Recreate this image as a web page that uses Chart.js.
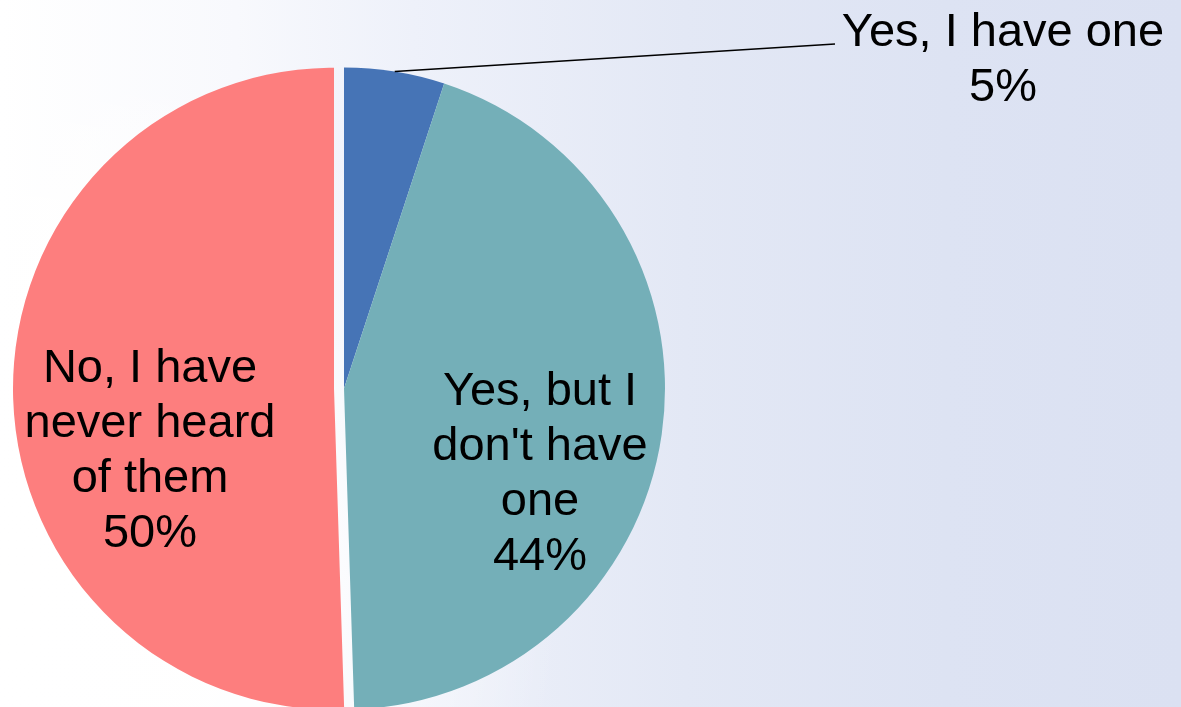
<!DOCTYPE html>
<html>
<head>
<meta charset="utf-8">
<script src="https://cdn.jsdelivr.net/npm/chart.js@4/dist/chart.umd.min.js"></script>
<style>
  html, body { margin: 0; padding: 0; }
  body {
    width: 1181px; height: 707px; overflow: hidden;
    background:
      radial-gradient(ellipse 700px 700px at 0px 600px, #ffffff 0%, rgba(255,255,255,0.9) 40%, rgba(255,255,255,0) 80%),
      linear-gradient(to right, #ffffff 0%, #f8f9fd 20%, #eef1fa 35%, #e3e8f5 58%, #dde3f3 80%, #dbe1f2 100%);
  }
  #wrap { position: absolute; left: 0; top: 0; width: 1181px; height: 707px; }
</style>
</head>
<body>
<div id="wrap"><canvas id="c" width="1181" height="707"></canvas></div>
<script>
// ---- data ----
const categories = ["Yes, I have one", "Yes, but I don't have one", "No, I have never heard of them"];
const values = [5, 44, 50];
const labelLines = [
  ["Yes, I have one"],
  ["Yes, but I", "don't have", "one"],
  ["No, I have", "never heard", "of them"]
];
const sliceColors = ["#4674b6", "#74afb8", "#fd7e7e"];

// ---- layout / style ----
const explode = [0, 0, 10];
const labelAnchors = [{x: 1003, y: 46}, {x: 540, y: 405}, {x: 150, y: 382}];
const leaderEnd = {x: 835, y: 44};
const lineHeight = 55;
const fontSpec = "47px 'Liberation Sans', Arial, sans-serif";

const explodePlugin = {
  id: 'explode',
  beforeDatasetsDraw(chart) {
    const meta = chart.getDatasetMeta(0);
    meta.data.forEach((arc, i) => {
      const e = explode[i] || 0;
      if (!e) return;
      if (arc._baseX === undefined) { arc._baseX = arc.x; arc._baseY = arc.y; }
      const mid = (arc.startAngle + arc.endAngle) / 2;
      arc.x = arc._baseX + Math.cos(mid) * e;
      arc.y = arc._baseY + Math.sin(mid) * e;
    });
  }
};

const labelPlugin = {
  id: 'sliceLabels',
  afterDatasetsDraw(chart) {
    const ctx = chart.ctx;
    const meta = chart.getDatasetMeta(0);
    ctx.save();
    // leader line for the small slice
    const a0 = meta.data[0];
    const mid0 = (a0.startAngle + a0.endAngle) / 2;
    ctx.beginPath();
    ctx.moveTo(a0.x + Math.cos(mid0) * a0.outerRadius, a0.y + Math.sin(mid0) * a0.outerRadius);
    ctx.lineTo(leaderEnd.x, leaderEnd.y);
    ctx.strokeStyle = '#000';
    ctx.lineWidth = 1.5;
    ctx.stroke();

    ctx.font = fontSpec;
    ctx.fillStyle = '#000';
    ctx.textAlign = 'center';
    ctx.textBaseline = 'alphabetic';
    values.forEach((v, i) => {
      const lines = labelLines[i].concat([v + '%']);
      const anc = labelAnchors[i];
      lines.forEach((t, k) => ctx.fillText(t, anc.x, anc.y + k * lineHeight));
    });
    ctx.restore();
  }
};

new Chart(document.getElementById('c'), {
  type: 'pie',
  data: {
    labels: categories,
    datasets: [{
      data: values,
      backgroundColor: sliceColors,
      borderWidth: 0,
      radius: 321
    }]
  },
  options: {
    responsive: false,
    animation: false,
    events: [],
    layout: { padding: { left: 0, right: 493, top: 70, bottom: 0 } },
    plugins: {
      legend: { display: false },
      tooltip: { enabled: false },
      title: { display: false }
    }
  },
  plugins: [explodePlugin, labelPlugin]
});
</script>
</body>
</html>
